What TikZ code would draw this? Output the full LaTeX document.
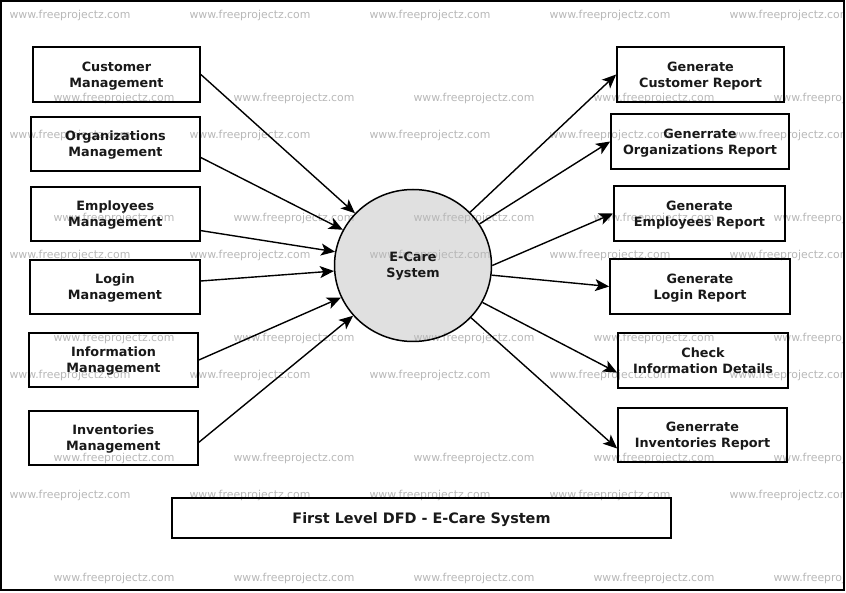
\documentclass[tikz,border=0pt]{standalone}
\usepackage{fontspec}
\setmainfont{DejaVu Sans}
\usetikzlibrary{arrows.meta,shapes.geometric}
\tikzset{
  x=1pt,y=-1pt,
  struts/.style 2 args={execute at begin node={\rule{0pt}{#1}},execute at end node={\rule[-#2]{0pt}{#2}}},
  boxnode/.style={draw=black,line width=1.7pt,minimum width=#1,minimum height=54.5pt,inner sep=0pt,align=center,font=\bfseries\fontsize{12.8pt}{16pt}\selectfont,text=black!90,struts={28.5pt}{3pt}},
  mark text/.style={text=black!28,font=\fontsize{10.9pt}{12pt}\selectfont,inner sep=0pt},
  flow/.style={draw=black,line width=1.4pt,-{Stealth[length=14pt,width=12pt,inset=3.5pt]},shorten >=0pt}
}
\begin{document}
\begin{tikzpicture}
\useasboundingbox (0,0) rectangle (846,593);
\fill[white] (0,0) rectangle (846,593);
\fill[black!12] (413,265.5) ellipse [x radius=78, y radius=76];
\begin{scope}
\clip (0,0) rectangle (843,589);
\foreach \y/\sh in {15.5/0,98.5/1,135.5/0,218.5/1,255.5/0,338.5/1,375.5/0,458.5/1,495.5/0,578.5/1}{
  \foreach \i in {0,...,4}{
    \pgfmathsetmacro{\xx}{70+180*\i+44*\sh}
    \node[mark text] (w\y\i) at (\xx,\y) {www.freeprojectz.com};
  }
}
\end{scope}
\draw[black,line width=2pt] (1,1) rectangle (843.5,590);
\node[ellipse,draw=black,line width=1.5pt,minimum width=157pt,minimum height=152pt,inner sep=0pt,align=center,font=\bfseries\fontsize{12.8pt}{16pt}\selectfont,text=black!90,struts={27.5pt}{3pt}] (hub) at (413,265.5) {E-Care\\System};

\node[boxnode=167pt] (a1) at (116.5,74.5) {Customer\\Management};
\node[boxnode=169pt] (a2) at (115.5,144) {Organizations\\Management};
\node[boxnode=169pt] (a3) at (115.3,214) {Employees\\Management};
\node[boxnode=170pt] (a4) at (115,287) {Login\\Management};
\node[boxnode=169pt] (a5) at (113.5,360) {Information\\Management};
\node[boxnode=169pt] (a6) at (113.3,438) {Inventories\\Management};

\node[boxnode=167pt] (b1) at (700.5,74.5) {Generate\\Customer Report};
\node[boxnode=178pt] (b2) at (700,141.5) {Generrate\\Organizations Report};
\node[boxnode=171pt] (b3) at (699.5,213.5) {Generate\\Employees Report};
\node[boxnode=180pt] (b4) at (700,286.5) {Generate\\Login Report};
\node[boxnode=170pt] (b5) at (703,360.5) {Check\\Information Details};
\node[boxnode=169pt] (b6) at (702.5,435) {Generrate\\Inventories Report};

\node[draw=black,line width=1.7pt,minimum width=499pt,minimum height=40pt,inner sep=0pt,font=\bfseries\fontsize{14.4pt}{16pt}\selectfont,text=black!90,struts={14pt}{2pt}] (ttl) at (421.5,518) {First Level DFD - E-Care System};

\draw[flow] (a1.east) -- (hub.138);
\draw[flow] (a2.-9) -- (hub.153);
\draw[flow] (a3.-11) -- (hub.170);
\draw[flow] (a4.4) -- (hub.184);
\draw[flow] (a5.east) -- (hub.204);
\draw[flow] (a6.-3) -- (hub.220);

\draw[flow] (hub.43) -- (b1.west);
\draw[flow] (hub.32) -- (b2.west);
\draw[flow] (hub.0) -- (b3.west);
\draw[flow] (hub.-7) -- (b4.west);
\draw[flow] (hub.-28) -- (b5.188);
\draw[flow] (hub.-42) -- (b6.189);
\end{tikzpicture}
\end{document}
